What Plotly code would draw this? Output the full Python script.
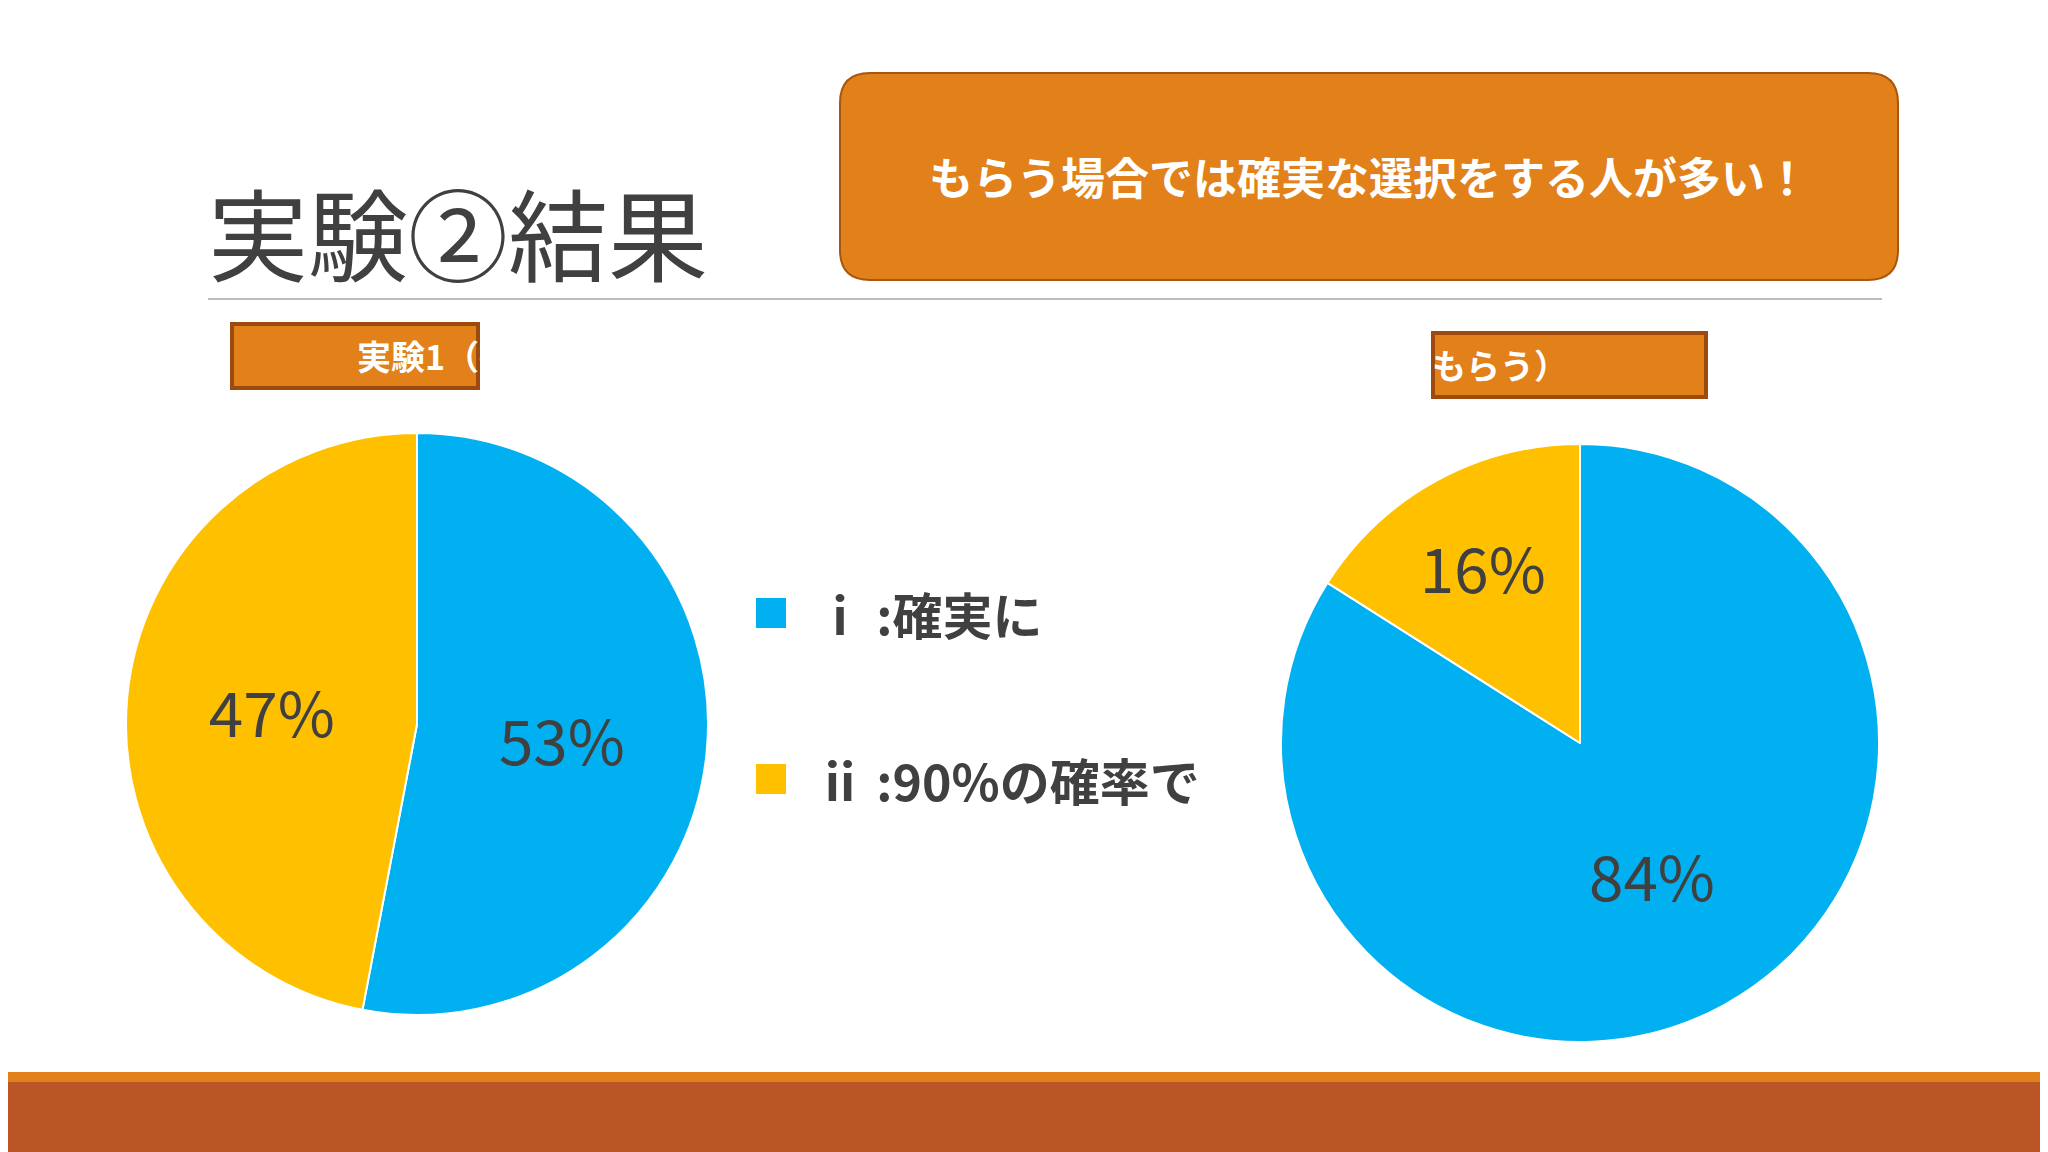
import plotly.graph_objects as go

# データ
labels = ['ⅰ :確実に', 'ⅱ :90%の確率で']
exp1_values = [53, 47]
exp2_values = [84, 16]
colors = ['#00B0F0', '#FFC000']

W, H = 2048, 1152
def px(x): return x / W
def py(y): return 1 - y / H

FONT = 'Noto Sans CJK JP'
fig = go.Figure()

for vals, dom in [(exp1_values, ([118, 700], [425, 1007])),
                  (exp2_values, ([1273, 1871], [436, 1034]))]:
    fig.add_trace(go.Pie(
        labels=labels, values=vals, sort=False, direction='clockwise', rotation=0,
        marker=dict(colors=colors, line=dict(color='white', width=2)),
        textinfo='percent', texttemplate='%{value}%', textposition='inside',
        insidetextorientation='horizontal',
        textfont=dict(size=62, color='#404040', family=FONT),
        domain=dict(x=[px(dom[0][0]), px(dom[0][1])], y=[py(dom[1][1]), py(dom[1][0])]),
        showlegend=False, hoverinfo='label+percent'))

shapes = []
annotations = []

# 下部の帯
shapes.append(dict(type='rect', xref='paper', yref='paper', x0=0, x1=1, y0=py(1074), y1=py(1064),
                   fillcolor='#E2801A', line_width=0, layer='below'))
shapes.append(dict(type='rect', xref='paper', yref='paper', x0=0, x1=1, y0=0, y1=py(1074),
                   fillcolor='#BA5526', line_width=0, layer='below'))
# タイトル下の線
shapes.append(dict(type='line', xref='paper', yref='paper', x0=px(200), x1=px(1874), y0=py(291), y1=py(291),
                   line=dict(color='#A6A6A6', width=1.5)))

# 角丸ボックス
x0, x1, y0, y1, r = 832, 1890, 65, 272, 30
path = (f'M {px(x0+r)},{py(y0)} L {px(x1-r)},{py(y0)} Q {px(x1)},{py(y0)} {px(x1)},{py(y0+r)} '
        f'L {px(x1)},{py(y1-r)} Q {px(x1)},{py(y1)} {px(x1-r)},{py(y1)} '
        f'L {px(x0+r)},{py(y1)} Q {px(x0)},{py(y1)} {px(x0)},{py(y1-r)} '
        f'L {px(x0)},{py(y0+r)} Q {px(x0)},{py(y0)} {px(x0+r)},{py(y0)} Z')
shapes.append(dict(type='path', xref='paper', yref='paper', path=path,
                   fillcolor='#E2801A', line=dict(color='#A8560F', width=2)))
annotations.append(dict(text='<b>もらう場合では確実な選択をする人が多い！</b>', x=px((x0+x1)/2), y=py(168),
                        xref='paper', yref='paper', yanchor='middle', showarrow=False,
                        font=dict(size=44, color='white', family=FONT)))

# タイトル
annotations.append(dict(text='実験②結果', x=px(198), y=py(222), xref='paper', yref='paper',
                        xanchor='left', yanchor='middle', showarrow=False,
                        font=dict(size=100, color='#404040', family=FONT)))

# 実験ラベル
for txt, (bx0, bx1, by0, by1) in [('<b>実験1（払う）</b>', (224, 470, 316, 380)),
                                  ('<b>実験2（もらう）</b>', (1425, 1698, 325, 389))]:
    shapes.append(dict(type='rect', xref='paper', yref='paper', x0=px(bx0), x1=px(bx1), y0=py(by1), y1=py(by0),
                       fillcolor='#E2801A', line=dict(color='#9C4A0E', width=4)))
    annotations.append(dict(text=txt, x=px((bx0+bx1)/2), y=py((by0+by1)/2), xref='paper', yref='paper',
                            yanchor='middle', showarrow=False,
                            font=dict(size=34, color='white', family=FONT)))

# 凡例
for lab, col, ly in zip(labels, colors, [605, 771]):
    shapes.append(dict(type='rect', xref='paper', yref='paper', x0=px(748), x1=px(778),
                       y0=py(ly+15), y1=py(ly-15), fillcolor=col, line_width=0))
    annotations.append(dict(text=f'<b>{lab}</b>', x=px(805), y=py(ly), xref='paper', yref='paper',
                            xanchor='left', yanchor='middle', showarrow=False,
                            font=dict(size=50, color='#404040', family=FONT)))

fig.update_layout(width=W, height=H, margin=dict(l=0, r=0, t=0, b=0),
                  paper_bgcolor='white', plot_bgcolor='white',
                  shapes=shapes, annotations=annotations)
fig.write_html('out.html')
